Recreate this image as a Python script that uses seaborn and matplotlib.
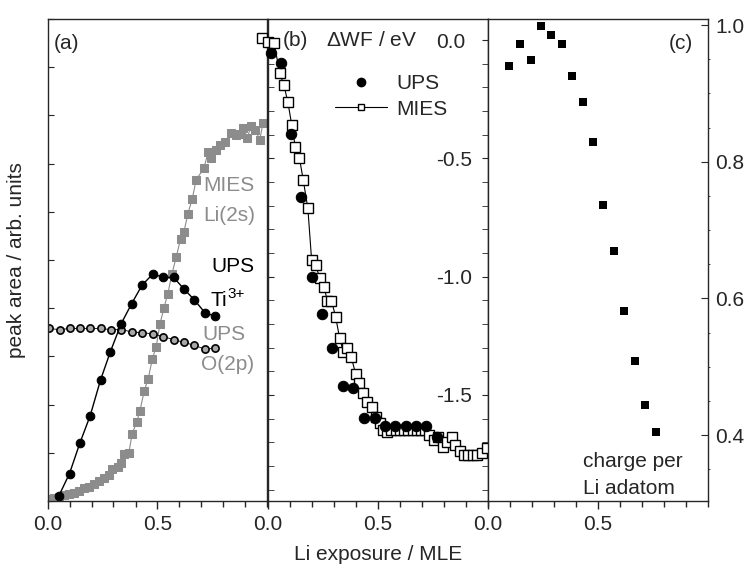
import numpy as np
import pandas as pd
import matplotlib
matplotlib.use('Agg')
import matplotlib.pyplot as plt
from matplotlib.ticker import MultipleLocator, NullFormatter, FormatStrFormatter
from matplotlib.lines import Line2D
import seaborn as sns

sns.set_style('ticks')
plt.rcParams['font.family'] = ['Liberation Sans', 'DejaVu Sans']
plt.rcParams['font.size'] = 15
plt.rcParams['axes.unicode_minus'] = False
plt.rcParams['axes.linewidth'] = 1.0
plt.rcParams['mathtext.fontset'] = 'custom'
plt.rcParams['mathtext.rm'] = 'Liberation Sans'
plt.rcParams['mathtext.it'] = 'Liberation Sans'

GRAY = '#8c8c8c'

# panel (a): peak areas (arb. units)
ti_x = [0.051, 0.100, 0.147, 0.194, 0.241, 0.286, 0.335, 0.382, 0.430, 0.479,
        0.526, 0.573, 0.620, 0.668, 0.715, 0.762]
ti_y = [0.10, 0.57, 1.20, 1.77, 2.51, 3.10, 3.68, 4.09, 4.48, 4.71,
        4.64, 4.64, 4.40, 4.17, 3.91, 3.83]

o2p_x = [0.005, 0.055, 0.101, 0.147, 0.194, 0.241, 0.288, 0.335, 0.382, 0.430,
         0.479, 0.526, 0.573, 0.620, 0.668, 0.715, 0.762]
o2p_y = [3.58, 3.555, 3.58, 3.58, 3.58, 3.58, 3.555, 3.555, 3.51, 3.49,
         3.47, 3.41, 3.35, 3.29, 3.23, 3.15, 3.17]

li_x = [0.009, 0.029, 0.051, 0.074, 0.097, 0.120, 0.142, 0.165, 0.188, 0.211,
        0.233, 0.256, 0.279, 0.294, 0.320, 0.332, 0.350, 0.370, 0.385, 0.405,
        0.420, 0.440, 0.458, 0.476, 0.494, 0.511, 0.529, 0.547, 0.565, 0.585,
        0.605, 0.620, 0.638, 0.658, 0.676, 0.711, 0.730, 0.745, 0.764, 0.786,
        0.809, 0.835, 0.855, 0.874, 0.889, 0.908, 0.926, 0.945, 0.965, 0.980]
li_y = [0.035, 0.069, 0.09, 0.118, 0.139, 0.173, 0.208, 0.263, 0.29, 0.346,
        0.416, 0.485, 0.533, 0.658, 0.706, 0.797, 0.984, 1.005, 1.40, 1.63,
        1.87, 2.29, 2.54, 2.94, 3.20, 3.67, 4.00, 4.30, 4.70, 5.06,
        5.44, 5.58, 5.96, 6.27, 6.67, 6.90, 7.24, 7.12, 7.28, 7.38,
        7.45, 7.64, 7.59, 7.62, 7.74, 7.54, 7.78, 7.69, 7.50, 7.85]

# panel (b): work function change (eV)
wf_ups_x = [0.014, 0.059, 0.105, 0.151, 0.200, 0.247, 0.294, 0.342, 0.390, 0.438,
            0.486, 0.532, 0.580, 0.627, 0.674, 0.721, 0.768]
wf_ups_y = [-0.056, -0.099, -0.398, -0.662, -1.000, -1.159, -1.300, -1.460, -1.472, -1.598,
            -1.598, -1.631, -1.631, -1.631, -1.631, -1.631, -1.679]

wf_mies_x = [-0.024, 0.000, 0.030, 0.056, 0.074, 0.092, 0.110, 0.126, 0.145, 0.162,
             0.183, 0.200, 0.218, 0.238, 0.256, 0.271, 0.290, 0.309, 0.327, 0.344,
             0.362, 0.380, 0.400, 0.417, 0.435, 0.453, 0.473, 0.491, 0.510, 0.526,
             0.544, 0.562, 0.582, 0.601, 0.620, 0.638, 0.658, 0.676, 0.695, 0.714,
             0.733, 0.753, 0.771, 0.794, 0.814, 0.835, 0.851, 0.873, 0.892, 0.910,
             0.930, 0.950, 0.971, 0.995]
wf_mies_y = [0.007, -0.007, -0.014, -0.141, -0.190, -0.260, -0.359, -0.451, -0.500, -0.591,
             -0.711, -0.929, -0.951, -1.007, -1.042, -1.101, -1.101, -1.169, -1.260, -1.317,
             -1.303, -1.341, -1.411, -1.450, -1.493, -1.528, -1.552, -1.591, -1.620, -1.648,
             -1.655, -1.648, -1.648, -1.648, -1.648, -1.648, -1.648, -1.648, -1.648, -1.648,
             -1.669, -1.690, -1.679, -1.718, -1.697, -1.679, -1.711, -1.735, -1.753, -1.753,
             -1.753, -1.753, -1.744, -1.725]

# panel (c): charge per Li adatom
charge_x = [0.097, 0.145, 0.194, 0.241, 0.288, 0.335, 0.383, 0.430, 0.479, 0.524,
            0.573, 0.620, 0.667, 0.715, 0.762]
charge_y = [0.940, 0.972, 0.949, 0.999, 0.986, 0.972, 0.926, 0.888, 0.829, 0.736,
            0.669, 0.582, 0.509, 0.444, 0.404]

fig = plt.figure(figsize=(7.46, 5.70), dpi=100)
W, H = 746, 570
bot = 1 - 501 / H
hgt = (501 - 19) / H
ax_a = fig.add_axes([47.5 / W, bot, 220 / W, hgt])
ax_b = fig.add_axes([267.5 / W, bot, 220.5 / W, hgt])
ax_c = fig.add_axes([488 / W, bot, 220 / W, hgt])

for ax in (ax_a, ax_b, ax_c):
    ax.set_xlim(0, 1)
    ax.xaxis.set_minor_locator(MultipleLocator(0.1))
    ax.set_xticks([0.0, 0.5])
    ax.set_xticklabels(['0.0', '0.5'])
    ax.tick_params(axis='x', which='major', direction='out', length=6, width=1, pad=4)
    ax.tick_params(axis='x', which='minor', direction='out', length=4, width=1)
    ax.set_xlabel('')
    ax.set_ylabel('')

# (a)
sns.lineplot(x=li_x, y=li_y, ax=ax_a, estimator=None, sort=False, color=GRAY, lw=0.8,
             marker='s', markersize=5.5, markerfacecolor=GRAY, markeredgecolor=GRAY)
sns.lineplot(x=o2p_x, y=o2p_y, ax=ax_a, estimator=None, sort=False, color='k', lw=0.6,
             marker='o', markersize=5.2, markerfacecolor='#a8a8a8', markeredgecolor='k',
             markeredgewidth=1.2)
sns.lineplot(x=ti_x, y=ti_y, ax=ax_a, estimator=None, sort=False, color='k', lw=1.0,
             marker='o', markersize=6.2, markerfacecolor='k', markeredgecolor='k')
ax_a.set_ylim(0, 10)
ax_a.yaxis.set_major_locator(MultipleLocator(1))
ax_a.yaxis.set_major_formatter(NullFormatter())
ax_a.tick_params(axis='y', which='both', direction='in', length=4, left=True, right=False)
ax_a.set_ylabel('peak area / arb. units', labelpad=12)
ax_a.text(0.03, 9.49, '(a)', ha='left', va='center')
ax_a.text(0.71, 6.55, 'MIES', color=GRAY, ha='left', va='center')
ax_a.text(0.71, 5.93, 'Li(2s)', color=GRAY, ha='left', va='center')
ax_a.text(0.745, 4.86, 'UPS', color='k', ha='left', va='center')
ti_txt = ax_a.text(0.74, 4.17, 'Ti', color='k', ha='left', va='center')
ax_a.annotate('3+', xy=(1, 1), xycoords=ti_txt, xytext=(0.3, 2.5),
              textcoords='offset points', ha='left', va='top', fontsize=11, color='k')
ax_a.text(0.706, 3.45, 'UPS', color=GRAY, ha='left', va='center')
ax_a.text(0.70, 2.84, 'O(2p)', color=GRAY, ha='left', va='center')

# (b)
sns.lineplot(x=wf_mies_x, y=wf_mies_y, ax=ax_b, estimator=None, sort=False, color='k', lw=0.8,
             marker='s', markersize=6.5, markerfacecolor='white', markeredgecolor='k',
             markeredgewidth=1.0, clip_on=False, zorder=3)
sns.lineplot(x=wf_ups_x, y=wf_ups_y, ax=ax_b, estimator=None, sort=False, lw=0,
             marker='o', markersize=7.5, markerfacecolor='k', markeredgecolor='k',
             clip_on=False, zorder=4)
ax_b.set_ylim(-1.948, 0.089)
ax_b.yaxis.set_major_locator(MultipleLocator(0.5))
ax_b.yaxis.set_minor_locator(MultipleLocator(0.1))
ax_b.yaxis.set_major_formatter(FormatStrFormatter('%.1f'))
ax_b.tick_params(axis='y', which='both', direction='in', length=4, left=True, right=True,
                 labelleft=False, labelright=True, pad=-37.5)
ax_b.text(0.067, 0.0, '(b)', ha='left', va='center')
ax_b.text(0.264, 0.0, r'$\Delta$WF / eV', ha='left', va='center')
handles = [Line2D([], [], ls='', marker='o', ms=6, mfc='k', mec='k', color='k'),
           Line2D([], [], ls='-', lw=0.8, marker='s', ms=4.5, mfc='white', mec='k', color='k')]
ax_b.legend(handles, ['UPS', 'MIES'], loc='upper left', bbox_to_anchor=(0.307, 0.885),
            frameon=False, borderpad=0, borderaxespad=0, handlelength=2.5,
            handletextpad=0.45, labelspacing=0.3, fontsize=15)

# (c)
sns.scatterplot(x=charge_x, y=charge_y, ax=ax_c, marker='s', s=28, color='k',
                edgecolor='k', linewidth=0)
ax_c.set_ylim(0.3036, 1.0088)
ax_c.yaxis.set_major_locator(MultipleLocator(0.2))
ax_c.yaxis.set_minor_locator(MultipleLocator(0.05))
ax_c.yaxis.set_major_formatter(FormatStrFormatter('%.1f'))
ax_c.tick_params(axis='y', which='major', direction='in', length=5, left=False, right=True,
                 labelleft=False, labelright=True, pad=5)
ax_c.tick_params(axis='y', which='minor', direction='out', length=1.5, left=False, right=True)
ax_c.text(0.933, 0.973, '(c)', ha='right', va='center')
ax_c.text(0.43, 0.361, 'charge per', ha='left', va='center')
ax_c.text(0.43, 0.322, 'Li adatom', ha='left', va='center')

ax_b.set_xlabel('Li exposure / MLE', labelpad=8)

fig.savefig('out.png', dpi=100)
